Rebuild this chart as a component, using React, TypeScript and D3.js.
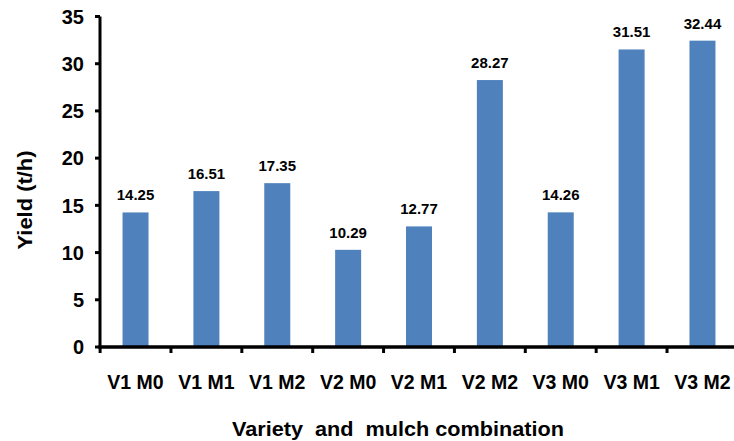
import React from "react";
import * as d3 from "d3";

const categories = ["V1 M0", "V1 M1", "V1 M2", "V2 M0", "V2 M1", "V2 M2", "V3 M0", "V3 M1", "V3 M2"];
const yieldValues = [14.25, 16.51, 17.35, 10.29, 12.77, 28.27, 14.26, 31.51, 32.44];
const yTicks = [0, 5, 10, 15, 20, 25, 30, 35];

const W = 734;
const H = 441;
const FONT = "Arial, 'Liberation Sans', Helvetica, sans-serif";
const BAR = "#4F81BD";

export default function App() {
  const x = d3.scaleBand<string>().domain(categories).range([100.1, 737.9]).padding(0);
  const y = d3.scaleLinear().domain([0, 35]).range([347, 16.5]);
  const barW = 26;
  const boundaries = categories.map((c) => x(c) as number);

  return (
    <svg
      width={W}
      height={H}
      style={{ position: "absolute", left: 0, top: 0, display: "block", overflow: "hidden" }}
      fontFamily={FONT}
    >
      <rect width={W} height={H} fill="#fff" />
      {/* bars with value labels and category labels */}
      {categories.map((c, i) => {
        const cx = (x(c) as number) + x.bandwidth() / 2;
        return (
          <g key={c}>
            <rect
              x={cx - barW / 2}
              y={y(yieldValues[i])}
              width={barW}
              height={y(0) - y(yieldValues[i])}
              fill={BAR}
            />
            <text
              x={cx}
              y={y(yieldValues[i]) - 12}
              textAnchor="middle"
              fontSize={15}
              fontWeight="bold"
              fill="#000"
            >
              {yieldValues[i].toFixed(2)}
            </text>
            <text
              x={cx}
              y={389}
              textAnchor="middle"
              fontSize={19.5}
              fontWeight="bold"
              fill="#000"
            >
              {c}
            </text>
          </g>
        );
      })}
      {/* y axis */}
      <line x1={100} x2={100} y1={y(35)} y2={y(0) + 1.5} stroke="#000" strokeWidth={3} />
      {yTicks.map((t) => (
        <g key={t}>
          <line x1={95} x2={100} y1={y(t)} y2={y(t)} stroke="#000" strokeWidth={3} />
          <text
            x={84}
            y={y(t)}
            dy="0.36em"
            textAnchor="end"
            fontSize={20}
            fontWeight="bold"
            fill="#000"
          >
            {t}
          </text>
        </g>
      ))}
      {/* x axis */}
      <line x1={98.5} x2={W} y1={y(0)} y2={y(0)} stroke="#000" strokeWidth={3.5} />
      {boundaries.map((b, i) => (
        <line key={i} x1={b} x2={b} y1={y(0)} y2={y(0) + 6} stroke="#000" strokeWidth={3} />
      ))}
      {/* axis titles */}
      <text
        transform="translate(32,200) rotate(-90)"
        textAnchor="middle"
        fontSize={21}
        fontWeight="bold"
        fill="#000"
        textLength={99}
        lengthAdjust="spacingAndGlyphs"
      >
        Yield (t/h)
      </text>
      <text
        x={398}
        y={436}
        textAnchor="middle"
        fontSize={21}
        fontWeight="bold"
        fill="#000"
        textLength={332}
        lengthAdjust="spacingAndGlyphs"
        style={{ whiteSpace: "pre" }}
      >
        {"Variety  and  mulch combination"}
      </text>
    </svg>
  );
}
